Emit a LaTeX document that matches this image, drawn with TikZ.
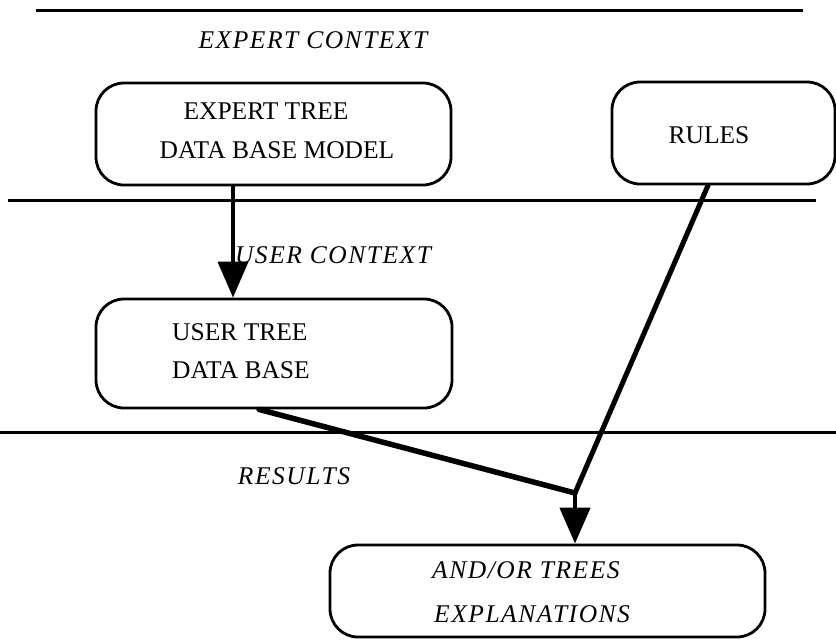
\documentclass[tikz,border=0pt]{standalone}
\usepackage{fontspec}
\setmainfont{Liberation Serif}
\usetikzlibrary{arrows.meta}
\begin{document}
\begin{tikzpicture}[x=1pt,y=-1pt,
  box/.style={draw, line width=2.8pt, rounded corners=28pt, inner sep=0pt},
  hline/.style={line width=3pt},
  conn/.style={line width=4.5pt, line cap=round},
  tip/.style={-{Triangle[length=36pt,width=30pt]}},
  lab/.style={font=\fontsize{25.5}{30}\selectfont, inner sep=0pt},
  ilab/.style={font=\fontsize{25.5}{30}\selectfont\itshape\addfontfeature{LetterSpace=6}, inner sep=0pt}]
\useasboundingbox (0,0) rectangle (836,641);

% separator lines
\draw[hline] (36,10) -- (803,10);
\draw[hline] (8,200) -- (816,200);
\draw[hline] (0,432) -- (836,432);

% boxes
\node[box, minimum width=355pt, minimum height=102pt] (expert) at (273.5,134) {};
\node[box, minimum width=223pt, minimum height=102pt] (rules) at (723.5,133) {};
\node[box, minimum width=356pt, minimum height=109pt] (user) at (274,353.5) {};
\node[box, minimum width=435pt, minimum height=92pt] (results) at (547.5,591) {};

% texts
\node[ilab] (tctx1) at (313,40) {EXPERT CONTEXT};
\node[lab] (t1) at (266,111) {EXPERT TREE};
\node[lab] (t2) at (277,150) {DATA BASE MODEL};
\node[lab] (t3) at (709,135) {RULES};
\node[ilab] (tctx2) at (333,255) {USER CONTEXT};
\node[lab, anchor=west] (t4) at (172,332) {USER TREE};
\node[lab, anchor=west] (t5) at (172,370) {DATA BASE};
\node[ilab] (tctx3) at (294,476) {RESULTS};
\node[ilab, anchor=west] (t6) at (432,570) {AND/OR TREES};
\node[ilab, anchor=west] (t7) at (434,614) {EXPLANATIONS};

% connectors
\coordinate (j) at (575,493);
\draw[line width=4pt, tip] ([xshift=-40.5pt]expert.south) -- ([xshift=-41pt]user.north);
\draw[conn, line width=5.5pt] ([xshift=-15pt]user.south) -- (j);
\draw[conn, line width=5pt] ([xshift=-15.5pt]rules.south) -- (j);
\draw[line width=4.5pt, tip] (j) -- ([xshift=27.5pt]results.north);
\end{tikzpicture}
\end{document}
